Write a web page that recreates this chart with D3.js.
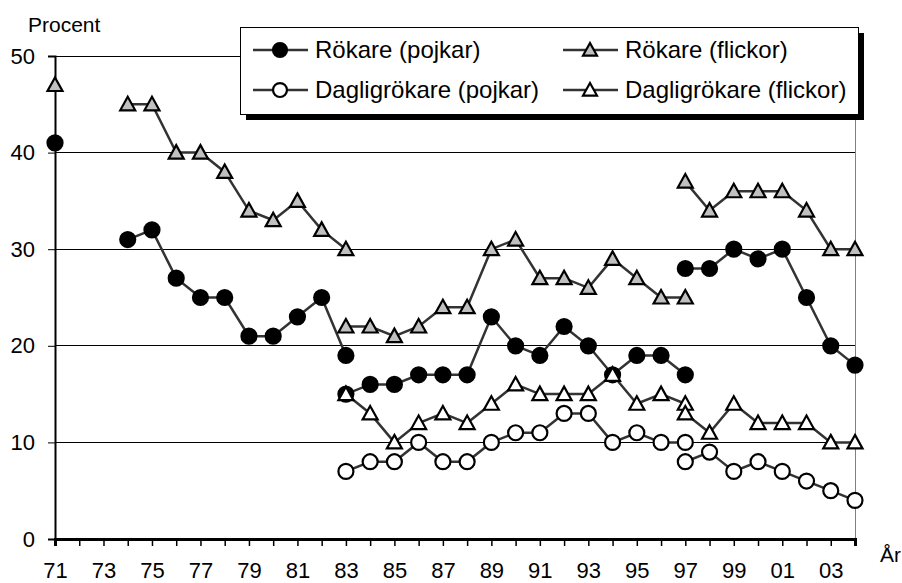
<!DOCTYPE html>
<html lang="sv">
<head>
<meta charset="UTF-8">
<title>Rökare</title>
<script src="https://d3js.org/d3.v7.min.js"></script>
<style>
  body { margin: 0; background: #fff; }
  text { font-family: "Liberation Sans", Arial, sans-serif; fill: #000; }
</style>
</head>
<body>
<svg id="main" width="902" height="583"></svg>
<script>
    // år 1971-2004
    const years = ["71","72","73","74","75","76","77","78","79","80","81","82","83","84","85","86","87",
                   "88","89","90","91","92","93","94","95","96","97","98","99","00","01","02","03","04"];
    const yearLabels = ["71","73","75","77","79","81","83","85","87","89","91","93","95","97","99","01","03"];
    const yTicks = [0, 10, 20, 30, 40, 50];

    // each series is split in parts (new survey method 83 and 97), first value = start year
    const rokarePojkar71 = [41, null, null, 31, 32, 27, 25, 25, 21, 21, 23, 25, 19];
    const rokarePojkar83 = [15, 16, 16, 17, 17, 17, 23, 20, 19, 22, 20, 17, 19, 19, 17];
    const rokarePojkar97 = [28, 28, 30, 29, 30, 25, 20, 18];

    const rokareFlickor71 = [47, null, null, 45, 45, 40, 40, 38, 34, 33, 35, 32, 30];
    const rokareFlickor83 = [22, 22, 21, 22, 24, 24, 30, 31, 27, 27, 26, 29, 27, 25, 25];
    const rokareFlickor97 = [37, 34, 36, 36, 36, 34, 30, 30];

    const dagligPojkar83 = [7, 8, 8, 10, 8, 8, 10, 11, 11, 13, 13, 10, 11, 10, 10];
    const dagligPojkar97 = [8, 9, 7, 8, 7, 6, 5, 4];

    const dagligFlickor83 = [15, 13, 10, 12, 13, 12, 14, 16, 15, 15, 15, 17, 14, 15, 14];
    const dagligFlickor97 = [13, 11, 14, 12, 12, 12, 10, 10];

    const seriesNames = ["Rökare (pojkar)", "Rökare (flickor)", "Dagligrökare (pojkar)", "Dagligrökare (flickor)"];

    const series = [
        {name: seriesNames[0], marker: "circle", fill: "#000", parts: [["71", rokarePojkar71], ["83", rokarePojkar83], ["97", rokarePojkar97]]},
        {name: seriesNames[1], marker: "triangle", fill: "#c0c0c0", parts: [["71", rokareFlickor71], ["83", rokareFlickor83], ["97", rokareFlickor97]]},
        {name: seriesNames[2], marker: "circle", fill: "#fff", parts: [["83", dagligPojkar83], ["97", dagligPojkar97]]},
        {name: seriesNames[3], marker: "triangle", fill: "#fff", parts: [["83", dagligFlickor83], ["97", dagligFlickor97]]}
    ];

    const svg = d3.select("svg#main");
    const x = d3.scalePoint().domain(years).range([55, 855]);
    const y = d3.scaleLinear().domain([0, 50]).range([539, 56]);

    // gridlines
    svg.append("g").selectAll("line")
        .data(yTicks.filter(d => d > 0))
        .enter().append("line")
        .attr("x1", 55).attr("x2", 855)
        .attr("y1", d => y(d)).attr("y2", d => y(d))
        .attr("stroke", "#000").attr("stroke-width", 1)
        .attr("shape-rendering", "crispEdges");

    // right border
    svg.append("line")
        .attr("x1", 855).attr("x2", 855).attr("y1", y(50)).attr("y2", y(0))
        .attr("stroke", "#808080").attr("stroke-width", 1)
        .attr("shape-rendering", "crispEdges");

    // y axis
    const yAxis = svg.append("g")
        .attr("transform", "translate(55,0)")
        .call(d3.axisLeft(y).tickValues(yTicks).tickSize(7).tickPadding(13));
    yAxis.select(".domain").attr("stroke-width", 2);
    yAxis.selectAll(".tick line").attr("stroke", "#000");
    yAxis.selectAll(".tick text").attr("font-size", 22).attr("font-family", "Liberation Sans, Arial, sans-serif");

    // x axis
    const xAxis = svg.append("g")
        .attr("transform", "translate(0," + y(0) + ")")
        .call(d3.axisBottom(x).tickSizeOuter(0).tickSize(7).tickPadding(16)
            .tickFormat(d => yearLabels.includes(d) ? d : ""));
    xAxis.select(".domain").attr("stroke-width", 3);
    xAxis.selectAll(".tick line").attr("stroke", "#000").attr("stroke-width", 1.5);
    xAxis.selectAll(".tick text").attr("font-size", 22).attr("font-family", "Liberation Sans, Arial, sans-serif");

    svg.append("text").attr("x", 28).attr("y", 32).attr("font-size", 21).text("Procent");
    svg.append("text").attr("x", 880).attr("y", 562).attr("font-size", 21).text("År");

    const line = d3.line()
        .defined(d => d.v != null)
        .x(d => x(d.year))
        .y(d => y(d.v));

    function drawMarker(g, s, k) {
        let m;
        if (s.marker === "circle") {
            m = g.append("circle").attr("r", 7.5 * k);
        } else {
            m = g.append("path").attr("d", "M0,-7.5L7.5,6L-7.5,6Z").attr("transform", "scale(" + k + ")");
        }
        m.attr("fill", s.fill).attr("stroke", "#000").attr("stroke-width", 2.2 / (s.marker === "circle" ? 1 : k))
            .attr("stroke-linejoin", "miter");
    }

    series.forEach(s => {
        const g = svg.append("g");
        s.parts.forEach(([start, vals]) => {
            const i0 = years.indexOf(start);
            const pts = vals.map((v, i) => ({year: years[i0 + i], v: v}));
            g.append("path")
                .datum(pts)
                .attr("d", line)
                .attr("fill", "none")
                .attr("stroke", "#333")
                .attr("stroke-width", 2.5);
            pts.filter(d => d.v != null).forEach(d => {
                const mg = g.append("g").attr("transform", "translate(" + x(d.year) + "," + y(d.v) + ")");
                drawMarker(mg, s, 1);
            });
        });
    });

    // legend
    const legend = svg.append("g");
    legend.append("rect").attr("x", 246).attr("y", 33).attr("width", 618).attr("height", 87).attr("fill", "#000");
    legend.append("rect").attr("x", 240.5).attr("y", 27.5).attr("width", 618).attr("height", 87)
        .attr("fill", "#fff").attr("stroke", "#000").attr("stroke-width", 1);

    const legendPos = [[253, 50], [563, 50], [253, 90], [563, 90]];
    series.forEach((s, i) => {
        const [lx, ly] = legendPos[i];
        legend.append("line").attr("x1", lx).attr("x2", lx + 55).attr("y1", ly).attr("y2", ly)
            .attr("stroke", "#333").attr("stroke-width", 2.5);
        const mg = legend.append("g").attr("transform", "translate(" + (lx + 27) + "," + ly + ")");
        drawMarker(mg, s, 0.93);
        legend.append("text").attr("x", lx + 62).attr("y", ly + 8).attr("font-size", 24).text(s.name);
    });
</script>
</body>
</html>
